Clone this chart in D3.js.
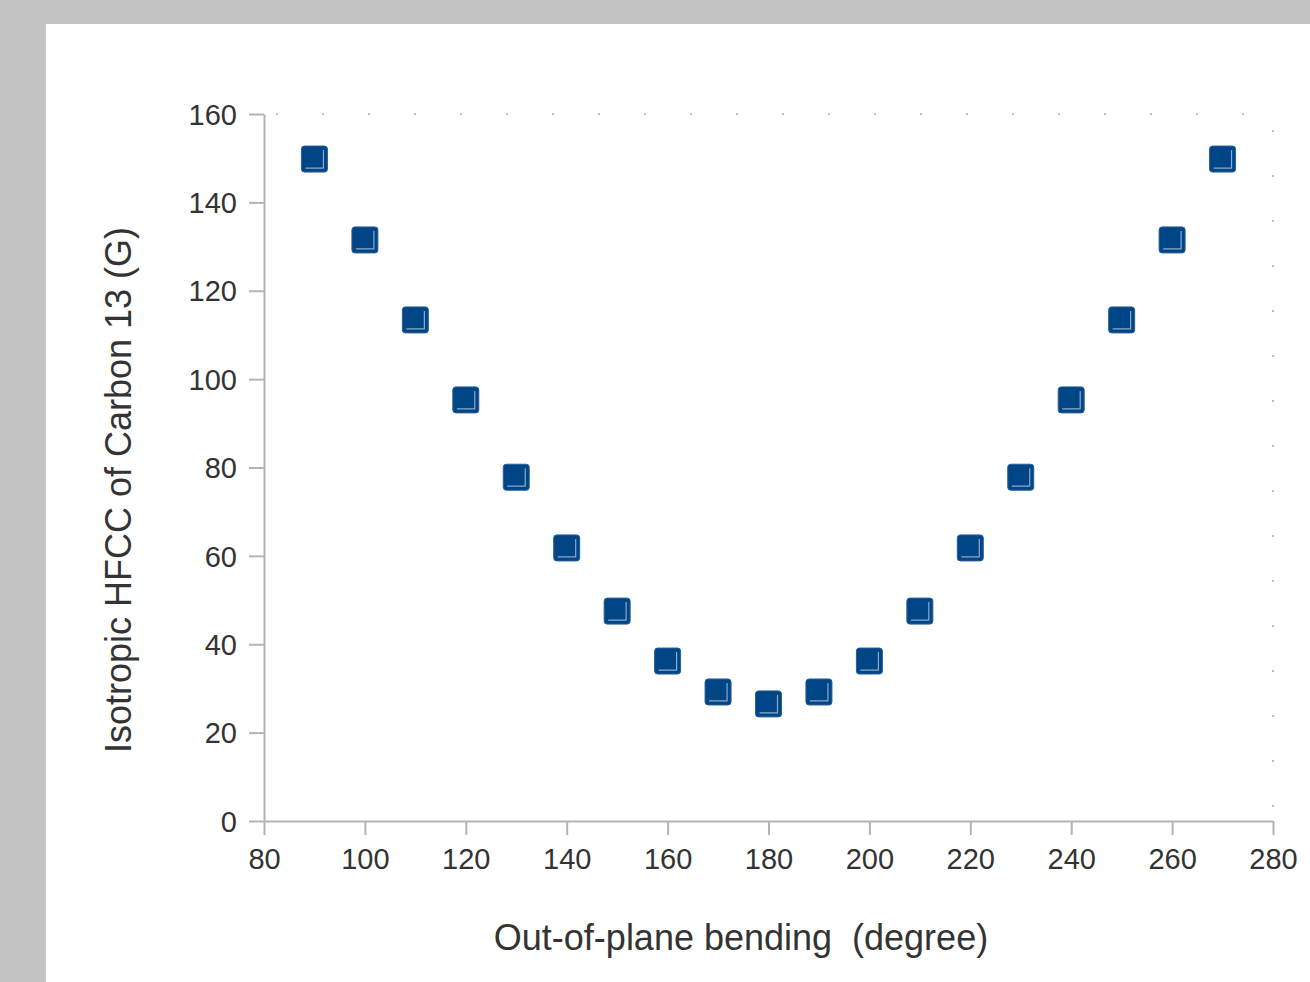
<!DOCTYPE html>
<head>
  <meta charset="utf-8">
  <script src="https://d3js.org/d3.v7.min.js"></script>
  <style>
    body { margin: 0; background: #c3c4c3; }
    svg { display: block; }
    text { font-family: "Liberation Sans", Arial, sans-serif; fill: #333; }
  </style>
</head>
<body>
<script>
  // bending angle (degree) and isotropic HFCC (G)
  var angles = [90, 100, 110, 120, 130, 140, 150, 160, 170, 180,
                190, 200, 210, 220, 230, 240, 250, 260, 270];
  var hfcc = [149.8, 131.5, 113.4, 95.3, 77.8, 61.8, 47.5, 36.2, 29.2, 26.5,
              29.2, 36.2, 47.5, 61.8, 77.8, 95.3, 113.4, 131.5, 149.8];
  var xTicks = [80, 100, 120, 140, 160, 180, 200, 220, 240, 260, 280];
  var yTicks = [0, 20, 40, 60, 80, 100, 120, 140, 160];

  var w = 1310, h = 982;
  var mLeft = 264, mRight = 1273, mTop = 114, mBottom = 821;

  var svg = d3.select("body").append("svg")
    .attr("width", w)
    .attr("height", h);

  // white panel
  svg.append("rect")
    .attr("x", 46).attr("y", 24)
    .attr("width", w - 46).attr("height", h - 24)
    .attr("fill", "#fff");

  var x = d3.scaleLinear().domain([80, 280]).range([mLeft, mRight]);
  var y = d3.scaleLinear().domain([0, 160]).range([mBottom, mTop]);

  // sparse dotted frame on top and right
  svg.append("line")
    .attr("x1", mLeft + 12).attr("x2", mRight)
    .attr("y1", mTop).attr("y2", mTop)
    .attr("stroke", "#aaa").attr("stroke-width", 1.5)
    .attr("stroke-dasharray", "2,44");
  svg.append("line")
    .attr("x1", mRight).attr("x2", mRight)
    .attr("y1", mTop + 16).attr("y2", mBottom)
    .attr("stroke", "#aaa").attr("stroke-width", 1.5)
    .attr("stroke-dasharray", "2,43");

  var xAxis = svg.append("g")
    .attr("transform", "translate(0," + mBottom + ")")
    .call(d3.axisBottom(x).tickValues(xTicks).tickSize(14).tickPadding(13).tickSizeOuter(0));
  var yAxis = svg.append("g")
    .attr("transform", "translate(" + mLeft + ",0)")
    .call(d3.axisLeft(y).tickValues(yTicks).tickSize(15).tickPadding(12).tickSizeOuter(0));

  [xAxis, yAxis].forEach(function(a) {
    a.select(".domain").attr("stroke", "#b3b3b3").attr("stroke-width", 2);
    a.selectAll(".tick line").attr("stroke", "#b3b3b3").attr("stroke-width", 2);
    a.selectAll(".tick text")
      .attr("fill", "#333")
      .style("font-family", "'Liberation Sans', Arial, sans-serif")
      .style("font-size", "29px");
  });
  yAxis.selectAll(".tick text").attr("dy", "0.35em");

  // points
  var pts = svg.append("g").selectAll("g")
    .data(angles)
    .enter().append("g")
    .attr("transform", function(d, i) { return "translate(" + x(d) + "," + y(hfcc[i]) + ")"; });

  pts.append("rect")
    .attr("x", -13).attr("y", -13)
    .attr("width", 26).attr("height", 26)
    .attr("rx", 3)
    .attr("fill", "#004586")
    .attr("stroke", "#2a5f96").attr("stroke-width", 1);
  pts.append("path")
    .attr("d", "M-9,9H9V-9")
    .attr("fill", "none")
    .attr("stroke", "#8fa9c8")
    .attr("stroke-width", 1.2);

  // axis titles
  svg.append("text")
    .attr("x", 741)
    .attr("y", 950)
    .attr("text-anchor", "middle")
    .style("font-size", "36px")
    .attr("xml:space", "preserve")
    .text("Out-of-plane bending  (degree)");

  svg.append("text")
    .attr("transform", "translate(131,490) rotate(-90)")
    .attr("text-anchor", "middle")
    .style("font-size", "36px")
    .text("Isotropic HFCC of Carbon 13 (G)");
</script>
</body>
